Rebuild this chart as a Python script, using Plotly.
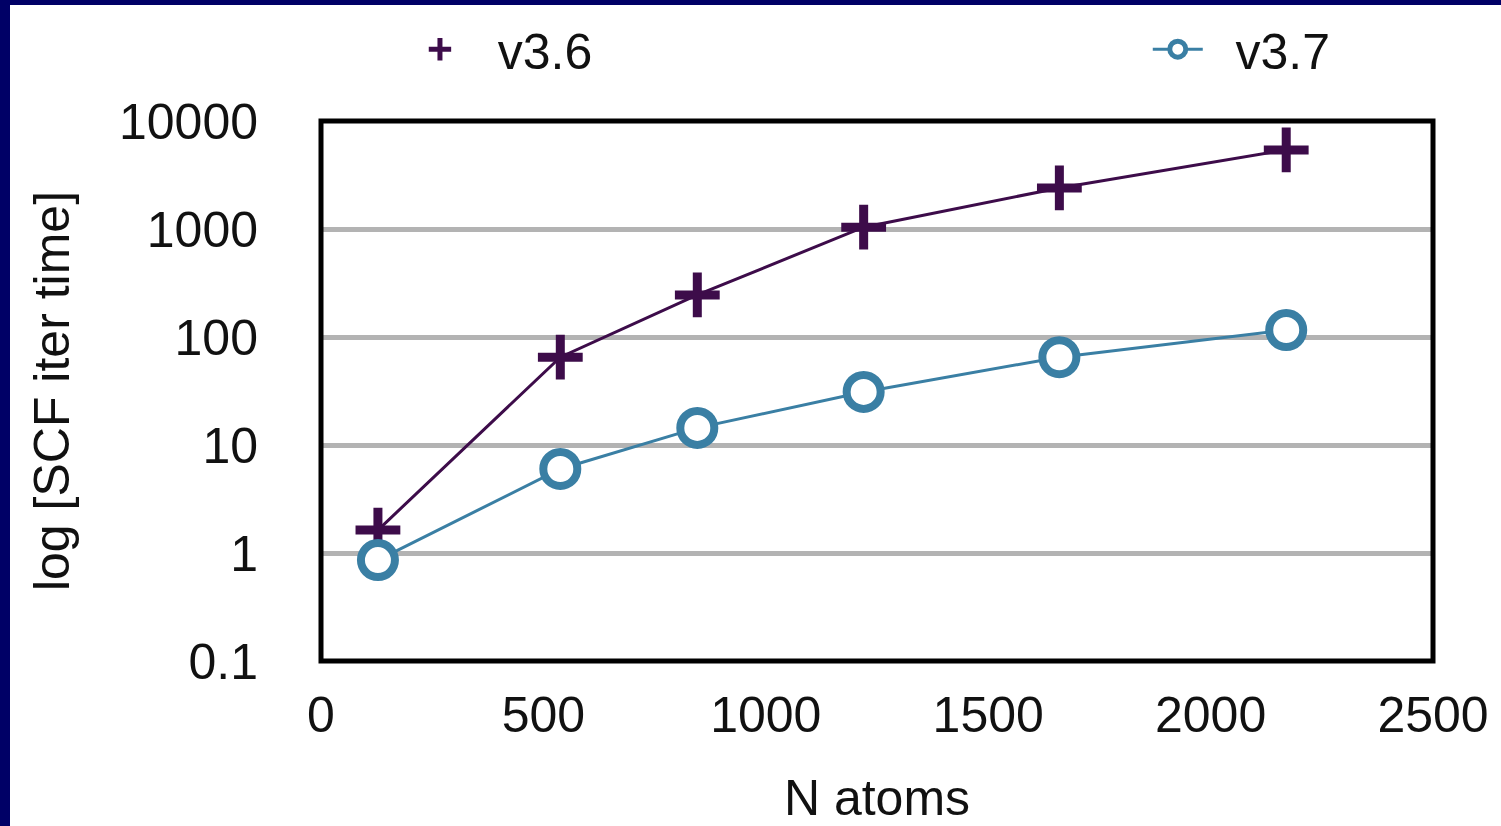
import plotly.graph_objects as go

# Data
n_atoms = [128, 538, 846, 1220, 1660, 2170]
v36_time = [1.63, 65, 245, 1040, 2400, 5400]
v37_time = [0.86, 6.0, 14.4, 31, 65, 116]

x_ticks = [0, 500, 1000, 1500, 2000, 2500]
y_ticks = [0.1, 1, 10, 100, 1000, 10000]
y_tick_text = ["0.1", "1", "10", "100", "1000", "10000"]

PURPLE = "#3d0c4a"
TEAL = "#3a7fa4"
NAVY = "#000066"
FONT = "Liberation Sans, Arial, Helvetica, sans-serif"

fig = go.Figure()

# data traces
fig.add_trace(go.Scatter(
    x=n_atoms, y=v36_time, mode="lines+markers", name="v3.6", showlegend=False,
    line=dict(color=PURPLE, width=3),
    marker=dict(symbol="cross-thin-open", size=32, color=PURPLE,
                line=dict(color=PURPLE, width=9)),
))
fig.add_trace(go.Scatter(
    x=n_atoms, y=v37_time, mode="lines+markers", name="v3.7", showlegend=False,
    line=dict(color=TEAL, width=3),
    marker=dict(symbol="circle", size=34, color="white", line=dict(color=TEAL, width=8)),
))
# legend entries
fig.add_trace(go.Scatter(
    x=[None], y=[None], mode="markers", name="\u00a0\u00a0v3.6", legend="legend",
    marker=dict(symbol="cross-thin-open", size=32, color=PURPLE,
                line=dict(color=PURPLE, width=9)),
))
fig.add_trace(go.Scatter(
    x=[None], y=[None], mode="lines+markers", name="\u00a0\u00a0v3.7", legend="legend2",
    line=dict(color=TEAL, width=3),
    marker=dict(symbol="circle", size=34, color="white", line=dict(color=TEAL, width=8)),
))

legend_common = dict(
    orientation="h", xanchor="left", y=1.133, yanchor="middle",
    itemwidth=50, font=dict(size=50), bgcolor="rgba(0,0,0,0)",
)

fig.update_layout(
    width=1501, height=826,
    margin=dict(l=321, r=68, t=121, b=165, autoexpand=False),
    paper_bgcolor="white", plot_bgcolor="white",
    font=dict(family=FONT, size=50, color="#111111"),
    legend=dict(x=0.080, **legend_common),
    legend2=dict(x=0.7435, **legend_common),
    xaxis=dict(
        range=[0, 2500], tickvals=x_ticks, showgrid=False, zeroline=False,
        ticks="outside", ticklen=0, ticklabelstandoff=10,
        tickfont=dict(size=50),
        title=dict(text="N atoms", font=dict(size=50), standoff=70),
        showline=False,
    ),
    yaxis=dict(
        type="log", range=[-1, 4], tickvals=y_ticks, ticktext=y_tick_text,
        showgrid=True, gridcolor="#b3b3b3", gridwidth=5, zeroline=False,
        ticks="outside", ticklen=0, ticklabelstandoff=52,
        tickfont=dict(size=50),
        title=dict(text="log [SCF iter time]", font=dict(size=50), standoff=33),
        showline=False,
    ),
    shapes=[
        dict(type="rect", xref="paper", yref="paper", x0=0, x1=1, y0=0, y1=1,
             line=dict(color="black", width=5), fillcolor="rgba(0,0,0,0)", layer="above"),
        dict(type="rect", xref="paper", yref="paper", xsizemode="pixel", ysizemode="pixel",
             xanchor=0, yanchor=0, x0=-330, x1=-311, y0=-200, y1=800,
             line=dict(width=0), fillcolor=NAVY, layer="above"),
        dict(type="rect", xref="paper", yref="paper", xsizemode="pixel", ysizemode="pixel",
             xanchor=0, yanchor=1, x0=-330, x1=1300, y0=116, y1=140,
             line=dict(width=0), fillcolor=NAVY, layer="above"),
    ],
)

fig.write_html("out.html")
